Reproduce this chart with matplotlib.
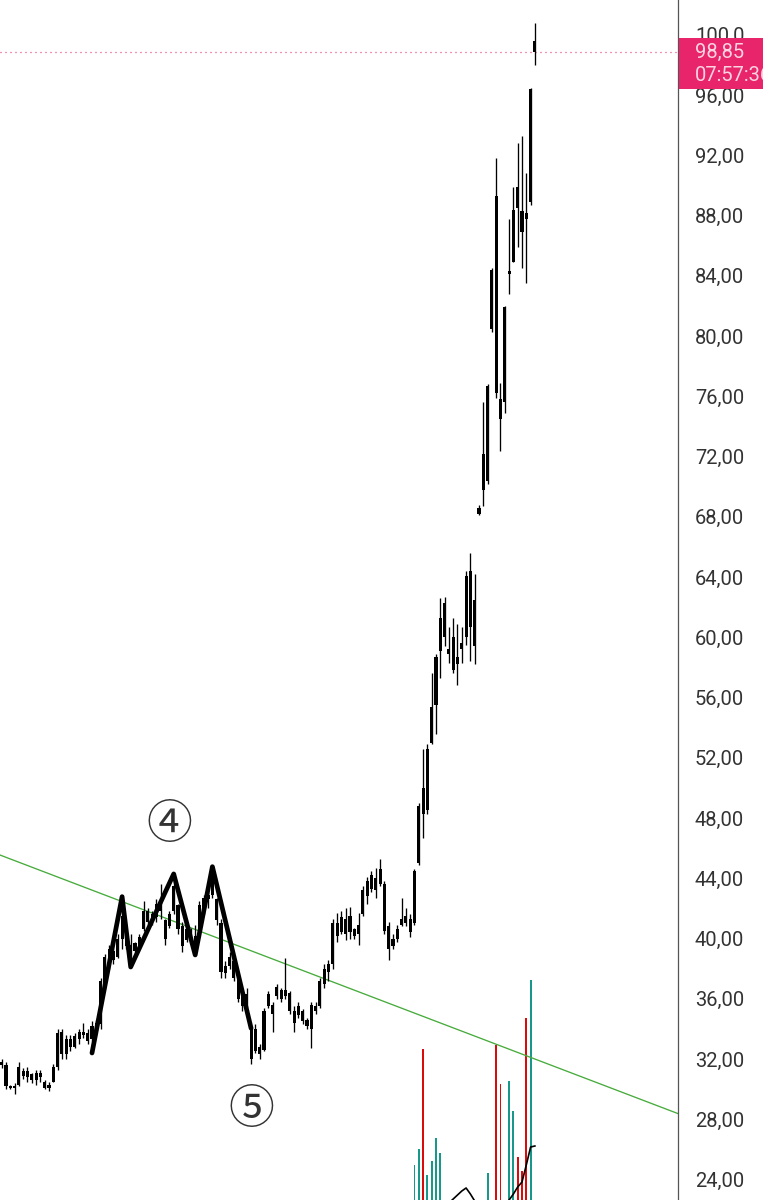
import numpy as np
import matplotlib
matplotlib.use("Agg")
import matplotlib.pyplot as plt
from matplotlib.patches import Rectangle

# ---------------- data ----------------
opens = [31.8, 31.6, 30.2, 30.1, 30.3, 31.2, 30.8, 31.0, 30.6, 31.1,
         30.5, 30.1, 30.5, 31.5, 33.8, 32.3, 33.3, 32.8, 33.3, 33.8,
         33.7, 33.3, 34.0, 34.3, 37.0, 38.7, 39.2, 38.8, 40.0, 40.4,
         39.6, 39.2, 39.5, 40.6, 41.8, 41.1, 41.4, 42.2, 41.2, 40.8,
         41.8, 42.2, 40.8, 39.9, 40.5, 40.2, 40.4, 42.0, 42.6, 42.9,
         42.6, 41.0, 37.7, 38.2, 38.5, 37.4, 36.2, 35.6, 34.0, 32.5,
         32.8, 32.6, 35.5, 35.6, 36.2, 36.6, 36.2, 36.4, 35.2, 34.9,
         35.2, 34.6, 34.0, 35.5, 35.5, 37.0, 37.8, 38.3, 41.0, 40.4,
         41.3, 40.4, 40.6, 40.3, 41.6, 42.8, 43.3, 44.0, 43.6, 43.6,
         40.8, 39.5, 40.0, 40.9, 41.0, 41.3, 41.0, 45.0, 50.0, 48.5,
         53.0, 55.5, 59.1, 60.0, 59.2, 60.0, 58.2, 59.2, 60.0, 64.4,
         59.4, 68.2, 69.8, 70.4, 80.5, 89.3, 75.8, 75.6, 84.1, 84.9,
         89.9, 88.3, 88.2, 88.9, 99.6]
highs = [32.0, 31.8, 30.3, 30.4, 31.8, 31.4, 31.5, 31.1, 31.3, 31.3,
         30.6, 30.5, 31.7, 34.0, 34.0, 33.6, 33.6, 33.7, 34.0, 34.4,
         34.0, 34.5, 34.6, 37.4, 39.0, 39.6, 39.3, 40.3, 42.5, 40.5,
         40.3, 39.8, 40.3, 42.5, 42.0, 41.8, 42.6, 43.6, 41.3, 41.8,
         44.0, 42.3, 41.1, 40.9, 40.7, 40.9, 42.5, 42.9, 43.1, 44.7,
         42.7, 41.3, 38.5, 39.1, 38.7, 37.6, 36.5, 36.7, 34.0, 34.3,
         33.0, 35.4, 36.5, 35.8, 37.0, 36.7, 38.7, 36.5, 35.5, 35.8,
         35.3, 34.7, 35.8, 35.8, 37.4, 38.3, 38.6, 41.3, 41.7, 41.8,
         42.0, 42.1, 40.7, 41.7, 43.5, 44.1, 44.5, 44.7, 45.3, 43.8,
         41.1, 40.3, 40.9, 42.7, 42.0, 41.6, 44.6, 49.0, 52.6, 52.9,
         57.6, 58.9, 62.6, 62.7, 60.7, 61.3, 60.9, 60.7, 64.4, 65.6,
         64.2, 68.8, 75.6, 76.8, 84.5, 91.8, 76.9, 82.0, 87.8, 89.9,
         92.8, 93.3, 90.8, 96.5, 100.8]
lows = [31.4, 30.0, 30.0, 29.7, 30.2, 30.7, 30.5, 30.4, 30.3, 30.5,
        30.0, 29.9, 30.5, 31.3, 32.0, 32.0, 32.5, 32.7, 33.0, 33.4,
        33.0, 33.2, 33.6, 34.0, 36.7, 38.0, 38.3, 38.7, 39.3, 39.3,
        38.7, 39.1, 39.3, 40.5, 40.9, 40.9, 41.1, 41.3, 39.6, 40.7,
        41.6, 40.3, 39.1, 39.8, 39.8, 38.9, 40.3, 41.6, 42.0, 42.7,
        40.9, 37.4, 37.4, 38.0, 37.2, 35.8, 35.2, 35.4, 31.7, 32.4,
        32.0, 32.5, 35.4, 33.8, 36.0, 35.8, 36.0, 35.0, 33.8, 34.7,
        34.3, 34.0, 32.7, 35.0, 35.4, 36.7, 37.2, 38.0, 39.8, 40.3,
        39.9, 40.0, 40.0, 39.6, 41.5, 42.3, 43.1, 42.7, 43.5, 40.3,
        38.6, 39.3, 39.8, 40.8, 40.8, 40.1, 40.9, 44.9, 46.7, 48.3,
        52.9, 53.6, 57.3, 59.4, 58.3, 57.6, 56.8, 58.3, 59.5, 58.4,
        58.2, 68.1, 68.7, 70.2, 80.3, 75.9, 72.4, 74.9, 82.8, 84.9,
        85.9, 84.5, 83.5, 88.7, 98.0]
closes = [31.6, 30.2, 30.1, 30.2, 31.5, 30.9, 31.2, 30.6, 31.1, 30.8,
          30.1, 30.3, 31.5, 33.7, 32.3, 33.3, 32.8, 33.5, 33.8, 33.6,
          33.2, 34.2, 34.4, 37.2, 38.8, 39.3, 38.6, 40.0, 41.5, 39.5,
          39.0, 39.7, 40.1, 41.8, 41.1, 41.6, 42.3, 41.8, 40.0, 41.6,
          43.5, 40.6, 39.5, 40.6, 40.0, 39.2, 42.2, 42.7, 42.9, 44.3,
          41.2, 37.8, 38.2, 38.8, 37.4, 36.0, 35.5, 36.3, 32.0, 34.0,
          32.3, 35.2, 36.3, 35.0, 36.8, 36.0, 36.6, 35.2, 34.4, 35.5,
          34.5, 34.2, 35.6, 35.2, 37.2, 38.0, 38.3, 41.0, 40.2, 41.4,
          40.3, 41.5, 40.2, 40.9, 43.2, 43.8, 44.2, 43.2, 44.6, 40.5,
          39.3, 40.0, 40.6, 41.3, 41.5, 40.4, 44.5, 48.8, 48.3, 52.6,
          55.4, 58.7, 61.3, 62.3, 58.9, 57.8, 58.7, 59.6, 64.1, 60.7,
          62.5, 68.6, 72.2, 76.7, 84.4, 76.2, 74.5, 81.9, 84.3, 88.4,
          88.5, 86.9, 87.8, 96.4, 98.85]
volumes = [22, 30, 18, 16, 28, 15, 17, 14, 16, 15,
           14, 15, 20, 34, 26, 19, 15, 14, 16, 17,
           15, 18, 17, 30, 32, 22, 18, 24, 33, 25,
           22, 15, 16, 28, 20, 16, 22, 26, 24, 17,
           30, 27, 22, 16, 14, 21, 25, 19, 17, 30,
           24, 32, 18, 16, 22, 27, 21, 19, 33, 24,
           17, 29, 22, 19, 18, 16, 25, 20, 22, 16,
           15, 14, 24, 15, 26, 24, 18, 32, 24, 20,
           22, 21, 14, 19, 27, 24, 22, 25, 28, 34,
           30, 17, 18, 23, 20, 18, 57.5, 65.5, 115.5, 52.5,
           59.5, 71, 63.5, 38, 30, 35, 28, 26, 24, 36,
           30, 22, 36, 53.5, 38, 117.5, 98, 39, 99.5, 84.5,
           61.5, 54.5, 131, 150, 25]
# volume moving average (only the tail is readable)
vol_ma_start = 100
vol_ma = [36, 37, 38, 37.5, 38.5, 40.5, 42.5, 44.5, 46, 43,
          39.5, 37, 35, 35.5, 36, 36.5, 37, 38, 40, 43,
          46.5, 49, 57.5, 66.5, 67]

last_price = 98.85
last_label = "98,85"
time_label = "07:57:36"

y_ticks = [24, 28, 32, 36, 40, 44, 48, 52, 56, 60, 64, 68, 72, 76, 80, 84, 88, 92, 96, 100]
y_tick_labels = ["24,00", "28,00", "32,00", "36,00", "40,00", "44,00", "48,00", "52,00",
                 "56,00", "60,00", "64,00", "68,00", "72,00", "76,00", "80,00", "84,00",
                 "88,00", "92,00", "96,00", "100,0"]

# user drawings
trend_pts = [(0, 45.5), (124, 32.0)]
wave_idx = [21, 28, 30, 40, 45, 49, 58]
wave_val = [32.4, 42.78, 38.11, 44.29, 38.91, 44.77, 34.04]
wave_labels = ["④", "⑤"]
wave_label_idx = [38.9, 58.1]
wave_label_val = [47.55, 28.65]

# ---------------- styling ----------------
W, H = 763, 1200
UP_VOL = "#16998a"
DOWN_VOL = "#dc0b0b"
PINK = "#e8246a"

fig = plt.figure(figsize=(W / 100, H / 100), dpi=100)
fig.patch.set_facecolor("white")
plot_w = 678 / W

vax = fig.add_axes([0, 0, plot_w, 1])
ax = fig.add_axes([0, 0, plot_w, 1], sharex=vax)
ax.set_zorder(2)
ax.patch.set_alpha(0)
vax.set_zorder(1)

n = len(opens)
idx = np.arange(n)

ax.set_xlim(-0.395, 157.28)
ax.set_ylim(22.64, 102.31)
vax.set_ylim(40, 640)
vax.axis("off")

# volume
vcols = [UP_VOL if c >= o else DOWN_VOL for o, c in zip(opens, closes)]
vax.bar(idx, volumes, width=0.46, color=vcols, linewidth=0)
ma_x = np.arange(vol_ma_start, vol_ma_start + len(vol_ma))
vax.plot(ma_x, vol_ma, color="black", lw=1.2)

# candles
ax.vlines(idx, lows, highs, color="black", lw=0.95, zorder=3)
bottoms = [min(o, c) for o, c in zip(opens, closes)]
heights = [max(abs(c - o), 0.12) for o, c in zip(opens, closes)]
ax.bar(idx, heights, bottom=bottoms, width=0.74, color="black", linewidth=0, zorder=3)

# trend line
ax.axline(trend_pts[0], trend_pts[1], color="#47ab3c", lw=0.95, zorder=2)

# wave drawing
ax.plot(wave_idx, wave_val, color="black", lw=3.4, solid_joinstyle="round",
        solid_capstyle="round", zorder=4)
for lab, xi, yv in zip(wave_labels, wave_label_idx, wave_label_val):
    ax.text(xi, yv, lab, ha="center", va="center", fontsize=33, color="#333333",
            family=["Noto Sans CJK JP", "DejaVu Sans"], zorder=5)

# last price dotted line
ax.axhline(last_price, color=PINK, lw=0.9, ls=(0, (0.8, 3.2)), zorder=1)

# axis styling
for s in ["top", "left", "bottom"]:
    ax.spines[s].set_visible(False)
ax.spines["right"].set_color("#555555")
ax.spines["right"].set_linewidth(0.9)
ax.set_xticks([])
ax.yaxis.tick_right()
ax.set_yticks(y_ticks)
ax.set_yticklabels(y_tick_labels)
ax.tick_params(axis="y", length=0, pad=12.2, labelsize=14.5, labelcolor="#333333")
for t in ax.get_yticklabels():
    t.set_fontfamily("Roboto")

# price label box
fig.canvas.draw()
y_disp = ax.transData.transform((0, last_price))[1]
y_top = (y_disp + 13.7) / H
y_bot = (y_disp - 37.3) / H
fig.add_artist(Rectangle((679 / W, y_bot), (W - 679) / W, y_top - y_bot,
                         transform=fig.transFigure, facecolor=PINK, edgecolor="none",
                         zorder=10))
fig.text(695 / W, y_disp / H, last_label, ha="left", va="center", fontsize=14.5,
         color="#fcd3e1", family="Roboto", zorder=11)
fig.text(695 / W, (y_disp - 23) / H, time_label, ha="left", va="center", fontsize=14.5,
         color="#fcd3e1", family="Roboto", zorder=11)

fig.savefig("out.png", dpi=100, facecolor="white")
